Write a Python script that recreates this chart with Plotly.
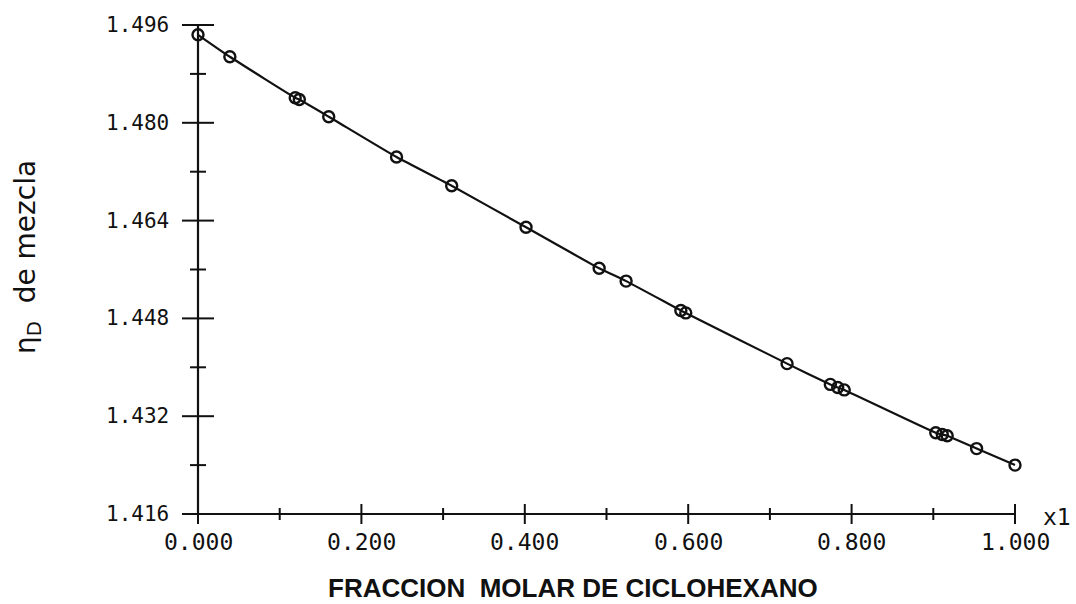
import plotly.graph_objects as go

# Refractive index of the mixture vs. mole fraction of cyclohexane
x_frac = [0.000, 0.039, 0.119, 0.124, 0.160, 0.243, 0.3105, 0.4015, 0.491, 0.524,
          0.591, 0.597, 0.721, 0.774, 0.783, 0.791, 0.903, 0.911, 0.917, 0.953, 1.000]
n_d = [1.4944, 1.4908, 1.4841, 1.4838, 1.4810, 1.4744, 1.4697, 1.4629, 1.4562, 1.4541,
       1.4493, 1.4489, 1.4406, 1.4372, 1.4367, 1.4363, 1.4293, 1.4290, 1.4288, 1.4267, 1.4240]

x_major = [0.0, 0.2, 0.4, 0.6, 0.8, 1.0]
x_minor = [0.1, 0.3, 0.5, 0.7, 0.9]
y_major = [1.416, 1.432, 1.448, 1.464, 1.480, 1.496]
y_minor = [1.424, 1.440, 1.456, 1.472, 1.488]
x_labels = ["0.000", "0.200", "0.400", "0.600", "0.800", "1.000"]
y_labels = ["1.416", "1.432", "1.448", "1.464", "1.480", "1.496"]

W, H = 1076, 604
X_MIN, X_MAX = 0.0, 1.0
Y_MIN, Y_MAX = 1.416, 1.496

# pixel calibration of the plotting frame (full-page plot area)
px0, px1 = 198.0, 1015.0
py_top, py_bot = 25.0, 514.0
sx = (px1 - px0) / (X_MAX - X_MIN)
sy = (py_bot - py_top) / (Y_MAX - Y_MIN)
x_range = [X_MIN - px0 / sx, X_MIN + (W - px0) / sx]
y_range = [Y_MIN - (H - py_bot) / sy, Y_MAX + py_top / sy]

INK = "#111111"
TICK_FONT = "DejaVu Sans Mono, monospace"

fig = go.Figure()
fig.add_trace(go.Scatter(
    x=x_frac, y=n_d, mode="lines+markers",
    line=dict(color=INK, width=2.2, shape="spline", smoothing=0.5),
    marker=dict(symbol="circle-open", size=11, color=INK, line=dict(width=2.4, color=INK)),
    cliponaxis=False, showlegend=False,
))

shapes = []
# axis lines
shapes.append(dict(type="line", xref="x", yref="y", x0=X_MIN, x1=X_MAX, y0=Y_MIN, y1=Y_MIN,
                   line=dict(color=INK, width=2.2)))
shapes.append(dict(type="line", xref="x", yref="y", x0=X_MIN, x1=X_MIN, y0=Y_MIN, y1=Y_MAX,
                   line=dict(color=INK, width=2.2)))
# y ticks crossing the axis
for v, half in [(v, 16) for v in y_major] + [(v, 8) for v in y_minor]:
    shapes.append(dict(type="line", xref="x", yref="y", xsizemode="pixel", xanchor=X_MIN,
                       x0=-half, x1=half, y0=v, y1=v, line=dict(color=INK, width=2)))
# x ticks crossing the axis
for v, half in [(v, 10) for v in x_major] + [(v, 6) for v in x_minor]:
    shapes.append(dict(type="line", xref="x", yref="y", ysizemode="pixel", yanchor=Y_MIN,
                       x0=v, x1=v, y0=-half, y1=half, line=dict(color=INK, width=2)))

annotations = []
for v, t in zip(y_major, y_labels):
    annotations.append(dict(x=X_MIN, y=v, xref="x", yref="y", text=t, showarrow=False,
                            xanchor="right", yanchor="middle", xshift=-27,
                            font=dict(family=TICK_FONT, size=21, color=INK)))
for v, t in zip(x_major, x_labels):
    annotations.append(dict(x=v, y=Y_MIN, xref="x", yref="y", text=t, showarrow=False,
                            xanchor="center", yanchor="middle", yshift=-28,
                            font=dict(family=TICK_FONT, size=23, color=INK)))
annotations.append(dict(x=X_MAX, y=Y_MIN, xref="x", yref="y", text="x1", showarrow=False,
                        xanchor="left", yanchor="middle", xshift=26, yshift=-3,
                        font=dict(family=TICK_FONT, size=23, color=INK)))
annotations.append(dict(x=573 / W, y=1 - 588 / H, xref="paper", yref="paper",
                        text="<b>FRACCION\u00a0\u00a0MOLAR DE CICLOHEXANO</b>", showarrow=False,
                        xanchor="center", yanchor="middle",
                        font=dict(family="Liberation Sans, Arial, sans-serif", size=26, color=INK)))
annotations.append(dict(x=27 / W, y=1 - 257 / H, xref="paper", yref="paper",
                        text="\u03b7<sub>D</sub>\u00a0\u00a0de mezcla", showarrow=False, textangle=-90,
                        xanchor="center", yanchor="middle",
                        font=dict(family="DejaVu Sans, sans-serif", size=28, color=INK)))

fig.update_layout(
    width=W, height=H,
    margin=dict(l=0, r=0, t=0, b=0),
    paper_bgcolor="white", plot_bgcolor="white",
    xaxis=dict(range=x_range, visible=False, fixedrange=True),
    yaxis=dict(range=y_range, visible=False, fixedrange=True),
    shapes=shapes, annotations=annotations,
)

fig.write_html("out.html")
